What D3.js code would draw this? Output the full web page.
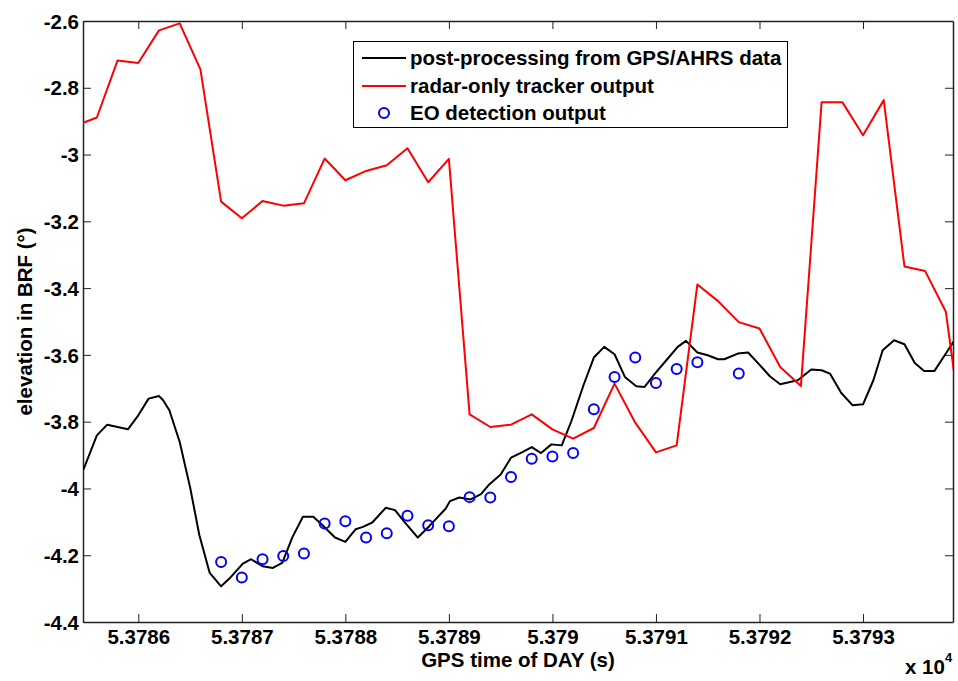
<!DOCTYPE html>
<html>
<head>
<meta charset="utf-8">
<script src="https://cdn.jsdelivr.net/npm/d3@7"></script>
<style>
  body { margin: 0; background: #fff; }
  svg { display: block; }
  text { font-family: "Liberation Sans", Arial, sans-serif; font-weight: bold; fill: #000; }
</style>
</head>
<body>
<svg id="chart" width="958" height="681"></svg>
<script>
// ---- data ----
const xTicks = [53786, 53787, 53788, 53789, 53790, 53791, 53792, 53793];
const yTicks = [-4.4, -4.2, -4.0, -3.8, -3.6, -3.4, -3.2, -3.0, -2.8, -2.6];
const seriesNames = ["post-processing from GPS/AHRS data", "radar-only tracker output", "EO detection output"];

// post-processing from GPS/AHRS data (time, elevation)
const gpsT = [53785.47, 53785.60, 53785.70, 53785.90, 53786.00, 53786.10, 53786.20, 53786.24, 53786.30, 53786.40,
  53786.50, 53786.59, 53786.69, 53786.80, 53786.88, 53787.01, 53787.09, 53787.20, 53787.30, 53787.39,
  53787.49, 53787.59, 53787.69, 53787.78, 53787.90, 53788.00, 53788.10, 53788.17, 53788.26, 53788.39,
  53788.48, 53788.57, 53788.70, 53788.81, 53788.97, 53789.01, 53789.10, 53789.21, 53789.31, 53789.39,
  53789.50, 53789.60, 53789.71, 53789.80, 53789.89, 53789.99, 53790.09, 53790.18, 53790.30, 53790.40,
  53790.50, 53790.60, 53790.70, 53790.81, 53790.89, 53790.99, 53791.10, 53791.21, 53791.29, 53791.40,
  53791.50, 53791.60, 53791.66, 53791.79, 53791.89, 53791.99, 53792.10, 53792.20, 53792.37, 53792.50,
  53792.60, 53792.68, 53792.79, 53792.90, 53793.00, 53793.10, 53793.19, 53793.30, 53793.40, 53793.50,
  53793.59, 53793.69, 53793.80, 53793.88];
const gpsV = [-3.944, -3.841, -3.809, -3.823, -3.781, -3.731, -3.723, -3.736, -3.766, -3.861,
  -3.996, -4.140, -4.253, -4.293, -4.270, -4.225, -4.212, -4.233, -4.238, -4.223,
  -4.145, -4.085, -4.085, -4.110, -4.147, -4.160, -4.122, -4.115, -4.102, -4.058,
  -4.065, -4.100, -4.147, -4.113, -4.060, -4.038, -4.027, -4.033, -4.017, -3.988,
  -3.958, -3.908, -3.891, -3.876, -3.894, -3.868, -3.871, -3.801, -3.691, -3.608,
  -3.576, -3.598, -3.666, -3.694, -3.696, -3.656, -3.616, -3.576, -3.558, -3.593,
  -3.601, -3.613, -3.613, -3.596, -3.593, -3.626, -3.664, -3.688, -3.676, -3.644,
  -3.646, -3.656, -3.714, -3.751, -3.748, -3.676, -3.586, -3.556, -3.568, -3.624,
  -3.648, -3.648, -3.596, -3.558];

// radar-only tracker output
const radarT = [53785.4, 53785.6, 53785.8, 53786.0, 53786.2, 53786.4, 53786.6, 53786.8, 53787.0, 53787.2,
  53787.4, 53787.6, 53787.8, 53788.0, 53788.2, 53788.4, 53788.6, 53788.8, 53789.0, 53789.2,
  53789.4, 53789.6, 53789.8, 53790.0, 53790.2, 53790.4, 53790.6, 53790.8, 53791.0, 53791.2,
  53791.4, 53791.6, 53791.8, 53792.0, 53792.2, 53792.4, 53792.6, 53792.8, 53793.0, 53793.2,
  53793.4, 53793.6, 53793.8, 53794.0];
const radarV = [-2.913, -2.889, -2.718, -2.726, -2.628, -2.607, -2.745, -3.141, -3.191, -3.139,
  -3.153, -3.146, -3.012, -3.077, -3.049, -3.032, -2.981, -3.083, -3.013, -3.778,
  -3.816, -3.809, -3.778, -3.823, -3.851, -3.819, -3.686, -3.803, -3.892, -3.871,
  -3.389, -3.439, -3.502, -3.521, -3.636, -3.693, -2.843, -2.843, -2.942, -2.837,
  -3.335, -3.349, -3.471, -3.927];

// EO detection output
const eoT = [53786.8, 53787.0, 53787.2, 53787.4, 53787.6, 53787.8, 53788.0, 53788.2, 53788.4, 53788.6,
  53788.8, 53789.0, 53789.2, 53789.4, 53789.6, 53789.8, 53790.0, 53790.2, 53790.4, 53790.6,
  53790.8, 53791.0, 53791.2, 53791.4, 53791.8];
const eoV = [-4.220, -4.267, -4.212, -4.202, -4.195, -4.105, -4.098, -4.147, -4.134, -4.082,
  -4.110, -4.113, -4.026, -4.027, -3.966, -3.911, -3.904, -3.894, -3.763, -3.666,
  -3.608, -3.684, -3.642, -3.622, -3.656];

// ---- layout ----
const svg = d3.select("#chart");
const L = 83, R = 953, T = 21, B = 622;
const FS = "20.5px";
const x = d3.scaleLinear().domain([53785.466, 53793.869]).range([L, R]);
const y = d3.scaleLinear().domain([-4.4, -2.6]).range([B, T]);

svg.append("defs").append("clipPath").attr("id", "clip")
  .append("rect").attr("x", L).attr("y", T).attr("width", R - L).attr("height", B - T);

const fmtX = v => String(+(v / 1e4).toFixed(4));
const fmtY = v => String(+v.toFixed(1));

// axes
const axisColor = "#222";
const gx = svg.append("g").attr("transform", `translate(0,${B})`)
  .call(d3.axisBottom(x).tickValues(xTicks).tickFormat(fmtX).tickSizeInner(-8).tickSizeOuter(0).tickPadding(7));
const gxt = svg.append("g").attr("transform", `translate(0,${T})`)
  .call(d3.axisTop(x).tickValues(xTicks).tickFormat("").tickSizeInner(-8).tickSizeOuter(0));
const gy = svg.append("g").attr("transform", `translate(${L},0)`)
  .call(d3.axisLeft(y).tickValues(yTicks).tickFormat(fmtY).tickSizeInner(-8).tickSizeOuter(0).tickPadding(4));
const gyr = svg.append("g").attr("transform", `translate(${R},0)`)
  .call(d3.axisRight(y).tickValues(yTicks).tickFormat("").tickSizeInner(-8).tickSizeOuter(0));
[gx, gxt, gy, gyr].forEach(g => {
  g.selectAll("path.domain").attr("stroke", axisColor).attr("stroke-width", 1.5);
  g.selectAll(".tick line").attr("stroke", axisColor).attr("stroke-width", 1);
  g.selectAll(".tick text").style("font-size", FS).style("font-family", "'Liberation Sans', Arial, sans-serif")
    .style("font-weight", "bold").attr("fill", "#000");
});
gy.selectAll(".tick text").attr("dy", "0.35em");

// lines
const plot = svg.append("g").attr("clip-path", "url(#clip)");
const gpsData = gpsT.map((t, i) => [t, gpsV[i]]);
const radarData = radarT.map((t, i) => [t, radarV[i]]);
const eoData = eoT.map((t, i) => [t, eoV[i]]);
const line = d3.line().x(d => x(d[0])).y(d => y(d[1]));

plot.append("path").datum(gpsData).attr("d", line)
  .attr("fill", "none").attr("stroke", "#000").attr("stroke-width", 2).attr("stroke-linejoin", "round");
plot.append("path").datum(radarData).attr("d", line)
  .attr("fill", "none").attr("stroke", "#ff0000").attr("stroke-width", 2).attr("stroke-linejoin", "round");
plot.selectAll("circle.eo").data(eoData).join("circle").attr("class", "eo")
  .attr("cx", d => x(d[0])).attr("cy", d => y(d[1])).attr("r", 5)
  .attr("fill", "none").attr("stroke", "#0000ff").attr("stroke-width", 2);

// axis titles
svg.append("text").attr("x", (L + R) / 2).attr("y", 667).attr("text-anchor", "middle")
  .style("font-size", FS).text("GPS time of DAY (s)");
svg.append("text").attr("transform", `translate(32,${(T + B) / 2}) rotate(-90)`).attr("text-anchor", "middle")
  .style("font-size", FS).text("elevation in BRF (°)");
const ex = svg.append("text").attr("x", 905).attr("y", 674).style("font-size", FS);
ex.append("tspan").text("x 10");
ex.append("tspan").attr("dy", -12).style("font-size", "13px").text("4");

// legend
const lg = svg.append("g");
lg.append("rect").attr("x", 353.5).attr("y", 41.5).attr("width", 434).attr("height", 86)
  .attr("fill", "#fff").attr("stroke", "#000").attr("stroke-width", 1);
const rows = [58, 86, 113];
lg.append("line").attr("x1", 362).attr("x2", 406).attr("y1", rows[0]).attr("y2", rows[0]).attr("stroke", "#000").attr("stroke-width", 2);
lg.append("line").attr("x1", 362).attr("x2", 406).attr("y1", rows[1]).attr("y2", rows[1]).attr("stroke", "#ff0000").attr("stroke-width", 2);
lg.append("circle").attr("cx", 384).attr("cy", rows[2]).attr("r", 5).attr("fill", "none").attr("stroke", "#0000ff").attr("stroke-width", 2);
seriesNames.forEach((n, i) => {
  lg.append("text").attr("x", 410).attr("y", rows[i]).attr("dy", "0.35em").style("font-size", FS).text(n);
});
</script>
</body>
</html>
